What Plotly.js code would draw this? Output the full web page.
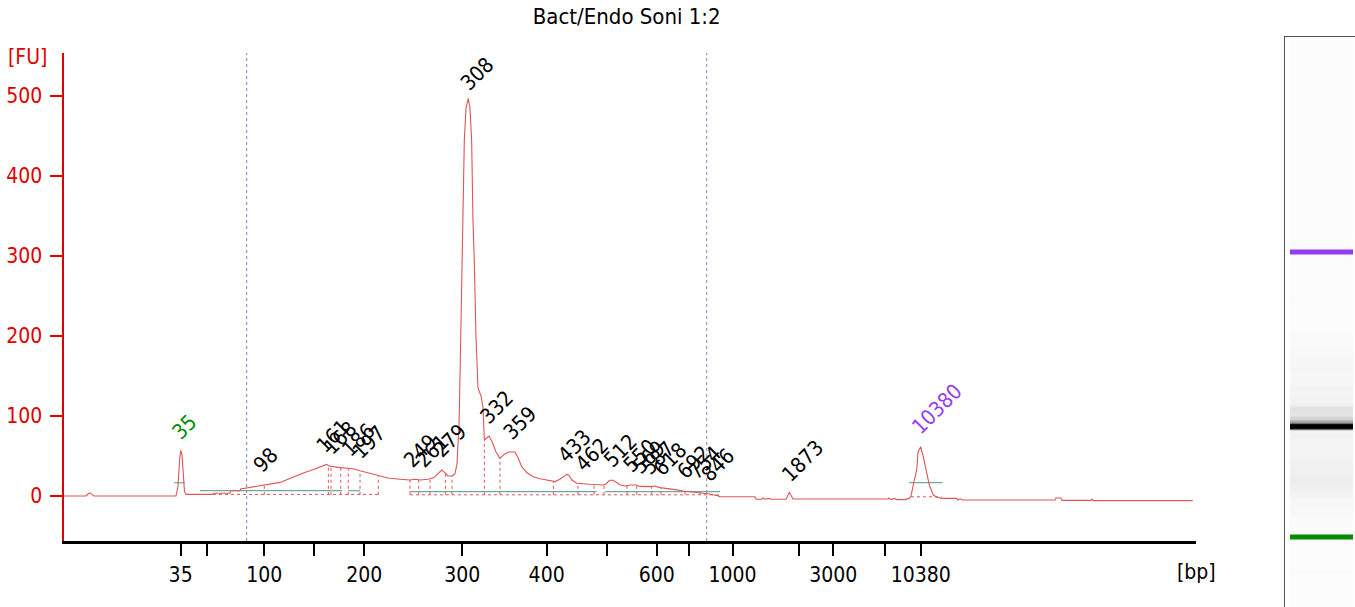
<!DOCTYPE html>
<html>
<head>
<meta charset="utf-8">
<script src="https://cdn.plot.ly/plotly-3.0.1.min.js"></script>
<style>html,body{margin:0;padding:0;background:#fff}#chart{width:1355px;height:607px}</style>
</head>
<body>
<div id="chart"></div>
<script>
// ---------- DATA ----------
// migration time (s) and fluorescence (FU) of the electropherogram trace
const traceTime = [40.00,41.83,42.00,42.17,42.33,42.50,49.33,49.50,49.63,49.73,49.83,49.92,50.04,50.17,52.42,52.46,53.83,53.88,54.67,54.71,55.25,55.92,56.58,56.71,57.33,58.00,58.67,59.42,60.00,60.50,61.17,61.67,61.88,62.08,62.42,63.00,63.67,64.25,64.67,65.33,66.17,67.00,68.00,68.83,69.25,69.67,70.33,70.83,71.17,71.48,71.75,72.00,72.33,72.58,72.75,72.92,73.04,73.17,73.25,73.36,73.50,73.69,73.83,73.97,74.08,74.19,74.33,74.50,74.75,74.92,75.03,75.21,75.42,75.67,76.00,76.33,76.67,77.03,77.58,77.83,78.14,78.58,79.11,79.67,80.22,80.92,81.33,81.67,81.89,82.08,82.33,82.72,83.33,83.83,84.92,85.17,85.42,85.64,85.92,86.33,86.75,87.17,87.67,88.00,88.83,89.17,89.67,90.22,90.92,91.61,92.33,93.00,93.83,94.53,94.67,97.58,97.67,98.17,98.25,98.42,98.75,98.92,99.08,100.17,100.33,100.44,100.58,100.75,108.67,108.75,108.92,109.17,109.42,110.08,110.42,110.58,110.83,111.06,111.17,111.39,111.61,111.83,112.11,112.44,112.75,113.14,114.39,114.50,114.67,114.92,122.58,122.67,123.08,123.17,125.58,125.67,125.75,134.06];
const traceFU = [0,0,2.5,4,2,0,0,12,45,57,52,25,6,2,2,3.4,3.4,6.6,6.6,8.75,10,12,13.75,14,15,17,21,26,29,31.6,35,38,39.5,37.5,36.5,35.5,34.6,33.5,31.6,29,25,22.5,21,20,21,20,21,23,28,32.5,29,25,25,28,40,90,180,300,380,445,485,497,485,445,345,295,200,135,125,110,70,72,75,68,55,47,52,55,55,48,36.7,29,24,21.5,20,18,21,25,27,26,20,16,15,14.6,13.75,15,19,20,18,14,12.5,13.75,13.75,12,11.7,12.5,10.5,9.6,8,6.25,5,4.2,2.5,0,-1,-1,-4,-4,-2.5,-4,-3,-4,-4,-4,1,4.6,1,-3.75,-3.75,-2.5,-4.5,-3,-4.5,-4.5,-3,0,18,32.5,55,61.6,49,32.5,13.75,1.25,-1.5,-3,-3,-5,-3.5,-5,-5,-2.5,-2.5,-5.5,-5.5,-4,-5.8,-5.8];

// sizing ladder: fragment size (bp) and its migration time (s)
const ladderBp   = [35,50,100,150,200,300,400,500,600,700,1000,2000,3000,7000,10380];
const ladderTime = [49.72,51.88,56.69,60.86,65.03,73.19,80.22,85.22,89.39,92.06,95.71,101.25,104.11,108.42,111.39];
const ladderLabelled = [35,100,200,300,400,600,1000,3000,10380];

// called peaks (bp)
const peakSizes = [35,98,161,168,186,197,249,261,279,308,332,359,433,462,512,550,569,587,618,692,754,846,1873,10380];
const lowerMarker = 35, upperMarker = 10380;

// peak-region boundaries (s)
const boundaryTimes = [56.69,62.03,62.25,63.06,63.69,64.67,66.19,68.83,69.56,70.50,71.78,72.33,75.03,76.33,80.78,82.83,84.17,85.00,86.92,87.73,88.98,89.75,91.75,93.00,93.83,94.53];
// integration baselines: start time, end time, level (FU)
const intStart = [49.17,51.33,63.67,68.83,85.10,110.42];
const intEnd   = [50.08,63.17,64.67,84.40,94.67,113.22];
const intLevel = [16.6,6.6,6.6,5.5,5.5,16.6];
// peak baselines (dotted): start time, end time, level (FU)
const baseStart = [52.42,68.83,110.58];
const baseEnd   = [66.17,94.53,113.14];
const baseLevel = [2,1.5,-1];
// analysis region markers (s)
const regionTimes = [55.22,93.56];

const title = 'Bact/Endo Soni 1:2';

// ---------- HELPERS ----------
function interp(xs, ys, x){
  if (x <= xs[0]) return ys[0];
  for (let i=1;i<xs.length;i++){
    if (x <= xs[i]){ const f=(x-xs[i-1])/(xs[i]-xs[i-1]); return ys[i-1]+f*(ys[i]-ys[i-1]); }
  }
  return ys[ys.length-1];
}
const fuAt = t => interp(traceTime, traceFU, t);
const bpToTime = bp => interp(ladderBp, ladderTime, bp);

const FONT = '"DejaVu Sans Condensed", "DejaVu Sans", Verdana, sans-serif';
const RED = 'rgb(225,0,0)';
const TRACE_C = 'rgb(222,85,85)';
const GREEN = 'rgb(0,140,0)';
const PURPLE = 'rgb(150,60,240)';

// ---------- TRACES ----------
const traces = [];
{
  const x=[],y=[];
  intStart.forEach((s,i)=>{x.push(s,intEnd[i],null);y.push(intLevel[i],intLevel[i],null);});
  traces.push({x,y,mode:'lines',line:{color:'rgb(110,170,160)',width:1.2},hoverinfo:'skip',xaxis:'x',yaxis:'y'});
}
{
  const x=[],y=[];
  baseStart.forEach((s,i)=>{x.push(s,baseEnd[i],null);y.push(baseLevel[i],baseLevel[i],null);});
  boundaryTimes.forEach(t=>{x.push(t,t,null);y.push(1.5,fuAt(t),null);});
  traces.push({x,y,mode:'lines',line:{color:TRACE_C,width:1,dash:'dot'},hoverinfo:'skip',xaxis:'x',yaxis:'y'});
}
traces.push({x:traceTime,y:traceFU,mode:'lines',line:{color:TRACE_C,width:1.1},xaxis:'x',yaxis:'y'});

// gel lane heatmap (x2/y2)
{
  const edges=[], z=[];
  const tMin=34.5, tMax=158, step=0.1;
  for (let t=tMin; t<=tMax+1e-9; t+=step) edges.push(+t.toFixed(2));
  for (let i=0;i<edges.length-1;i++){ const tc=(edges[i]+edges[i+1])/2; z.push([Math.max(0,fuAt(tc))]); }
  traces.push({type:'heatmap',x:[5,68],y:edges,z,zmin:0,zmax:500,showscale:false,hoverinfo:'skip',
    colorscale:[[0,'#fcfcfc'],[0.02,'#f8f8f8'],[0.07,'#efefef'],[0.11,'#e2e2e2'],[0.2,'#bcbcbc'],[0.4,'#666666'],[0.7,'#111111'],[1,'#000000']],
    xaxis:'x2',yaxis:'y2'});
  [[lowerMarker,GREEN],[upperMarker,PURPLE]].forEach(([bp,c])=>{
    const t=bpToTime(bp);
    traces.push({x:[5,68],y:[t,t],mode:'lines',line:{color:c,width:5},hoverinfo:'skip',xaxis:'x2',yaxis:'y2'});
  });
}

// ---------- LAYOUT ----------
const W=1355,H=607;
const tickvals = ladderTime.slice();
const ticktext = ladderBp.map(b=>ladderLabelled.includes(b)?String(b):'');

const annotations = peakSizes.map(bp=>{
  const t = bpToTime(bp);
  const c = bp===lowerMarker?GREEN:(bp===upperMarker?PURPLE:'#000');
  return {x:t,y:fuAt(t),xref:'x',yref:'y',text:String(bp),textangle:-45,showarrow:false,
    xanchor:'left',yanchor:'bottom',xshift:-16,yshift:5,font:{family:FONT,size:21,color:c}};
});
annotations.push({x:27/W,y:(H-57)/570,xref:'paper',yref:'paper',xanchor:'center',yanchor:'middle',text:'[FU]',showarrow:false,font:{family:FONT,size:21,color:RED}});
annotations.push({x:1196/W,y:(H-572)/570,xref:'paper',yref:'paper',xanchor:'center',yanchor:'middle',text:'[bp]',showarrow:false,font:{family:FONT,size:21,color:'#000'}});

const shapes = regionTimes.map(t=>({type:'line',xref:'x',yref:'paper',x0:t,x1:t,y0:(H-541)/570,y1:(H-53)/570,
  line:{color:'rgb(130,130,200)',width:1,dash:'dot'}}));

const layout = {
  width:W,height:H,showlegend:false,paper_bgcolor:'#fff',plot_bgcolor:'rgba(0,0,0,0)',
  margin:{l:0,r:0,t:37,b:0,pad:0},
  font:{family:FONT,size:20,color:'#000'},
  title:{text:title,x:626.7/W,xref:'paper',xanchor:'center',y:1-16/H,yref:'container',yanchor:'middle',font:{family:FONT,size:22,color:'#000'}},
  xaxis:{domain:[64/W,1196/W],range:[40,40+1132/12],anchor:'y',showgrid:false,zeroline:false,
    showline:true,linecolor:'#000',linewidth:2.5,ticks:'outside',ticklen:12,tickwidth:2,tickcolor:'#000',
    tickmode:'array',tickvals,ticktext,tickfont:{family:FONT,size:21,color:'#000'},ticklabelstandoff:1,automargin:false,fixedrange:true},
  yaxis:{domain:[(H-541)/570,(H-53)/570],range:[-56.25,553.75],anchor:'x',showgrid:false,zeroline:false,
    showline:true,linecolor:RED,linewidth:2.5,ticks:'outside',ticklen:12,tickwidth:2,tickcolor:RED,
    tickmode:'array',tickvals:[0,100,200,300,400,500],tickfont:{family:FONT,size:21,color:RED},ticklabelstandoff:3,automargin:false,fixedrange:true},
  xaxis2:{domain:[1285/W,1],range:[0,70],anchor:'y2',side:'top',showline:true,linecolor:'#555',linewidth:1.5,
    showgrid:false,zeroline:false,showticklabels:false,ticks:'',fixedrange:true},
  yaxis2:{domain:[0,1],range:[34.57,157.91],anchor:'x2',showline:true,linecolor:'#555',linewidth:1.5,
    showgrid:false,zeroline:false,showticklabels:false,ticks:'',fixedrange:true},
  annotations,shapes
};

Plotly.newPlot('chart',traces,layout,{displayModeBar:false,staticPlot:true});
</script>
</body>
</html>
